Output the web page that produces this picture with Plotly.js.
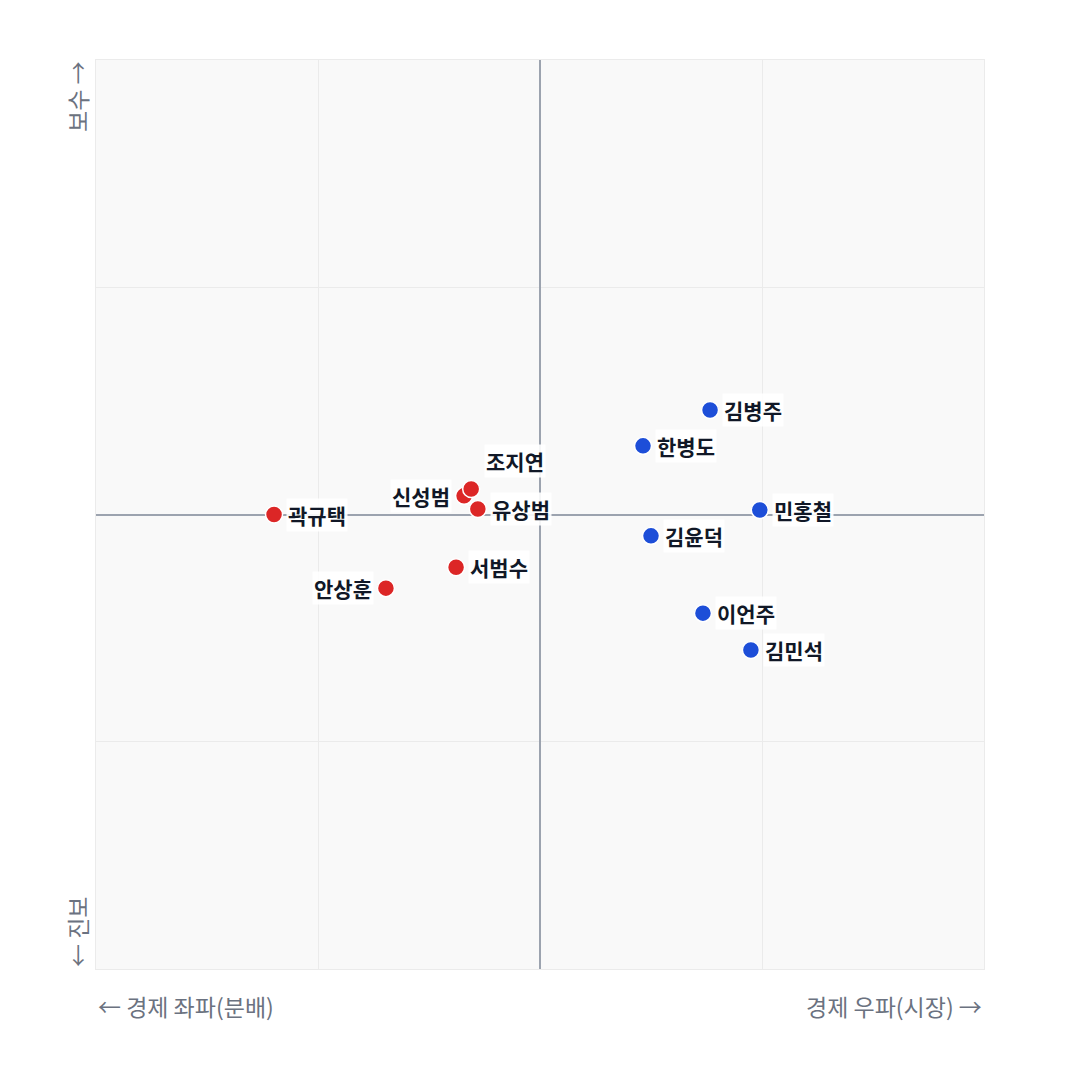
<!DOCTYPE html>
<html>
<head>
<meta charset="utf-8">
<script src="https://cdn.plot.ly/plotly-3.0.1.min.js"></script>
<style>html,body{margin:0;padding:0;background:#fff;}#chart{width:1080px;height:1080px;}</style>
</head>
<body>
<div id="chart"></div>
<script>
const redNames = ["곽규택","안상훈","서범수","신성범","조지연","유상범"];
const redX = [-0.599,-0.347,-0.189,-0.171,-0.155,-0.140];
const redY = [0.000,-0.162,-0.116,0.041,0.056,0.012];
const redPos = ["right","left","right","left","top","right"];

const blueNames = ["김병주","한병도","민홍철","김윤덕","이언주","김민석"];
const blueX = [0.383,0.232,0.495,0.250,0.367,0.475];
const blueY = [0.230,0.151,0.010,-0.047,-0.217,-0.298];
const bluePos = ["right","right","right","right","right","right"];

const FONT = "'Noto Sans CJK KR', 'Noto Sans', sans-serif";

function trace(x, y, color) {
  return {
    x: x, y: y, type: "scatter", mode: "markers", hoverinfo: "skip",
    marker: {size: 17, color: color, line: {color: "#ffffff", width: 1.5}},
    showlegend: false
  };
}

function labels(names, xs, ys, pos) {
  return names.map((n, i) => {
    const a = {
      x: xs[i], y: ys[i], xref: "x", yref: "y", text: "<b>" + n + "</b>",
      showarrow: false, font: {family: FONT, size: 21, color: "#111827"},
      bgcolor: "rgba(255,255,255,0.9)", borderpad: 1
    };
    if (pos[i] === "right") { a.xanchor = "left"; a.xshift = 12; a.yanchor = "middle"; }
    else if (pos[i] === "left") { a.xanchor = "right"; a.xshift = -12; a.yanchor = "middle"; }
    else { a.xanchor = "center"; a.xshift = 44; a.yanchor = "middle"; a.yshift = 28; }
    return a;
  });
}

const axisLabelFont = {family: FONT, size: 23, color: "#6b7280"};

const annotations = [
  ...labels(redNames, redX, redY, redPos),
  ...labels(blueNames, blueX, blueY, bluePos),
  {xref: "paper", yref: "paper", x: 0, y: -0.02, xanchor: "left", yanchor: "top",
   text: "← 경제 좌파(분배)", showarrow: false, font: axisLabelFont},
  {xref: "paper", yref: "paper", x: 1, y: -0.02, xanchor: "right", yanchor: "top",
   text: "경제 우파(시장) →", showarrow: false, font: axisLabelFont},
  {xref: "paper", yref: "paper", x: 0, y: 1, xanchor: "right", yanchor: "top",
   text: "보수 →", textangle: -90, showarrow: false, font: axisLabelFont},
  {xref: "paper", yref: "paper", x: 0, y: 0, xanchor: "right", yanchor: "bottom",
   text: "← 진보", textangle: -90, showarrow: false, font: axisLabelFont}
];

const layout = {
  width: 1080, height: 1080,
  margin: {l: 96, r: 96, t: 60, b: 111},
  paper_bgcolor: "#ffffff",
  plot_bgcolor: "#f9f9f9",
  font: {family: FONT},
  xaxis: {range: [-1, 1], dtick: 0.5, showticklabels: false, ticks: "",
          showgrid: true, gridcolor: "#ebebeb", gridwidth: 1,
          zeroline: true, zerolinecolor: "#9ca3af", zerolinewidth: 2,
          showline: true, linecolor: "#ebebeb", mirror: true, fixedrange: true},
  yaxis: {range: [-1, 1], dtick: 0.5, showticklabels: false, ticks: "",
          showgrid: true, gridcolor: "#ebebeb", gridwidth: 1,
          zeroline: true, zerolinecolor: "#9ca3af", zerolinewidth: 2,
          showline: true, linecolor: "#ebebeb", mirror: true, fixedrange: true},
  annotations: annotations,
  showlegend: false
};

Plotly.newPlot("chart", [trace(redX, redY, "#dc2626"), trace(blueX, blueY, "#1d4ed8")], layout, {displayModeBar: false, staticPlot: true});
</script>
</body>
</html>
